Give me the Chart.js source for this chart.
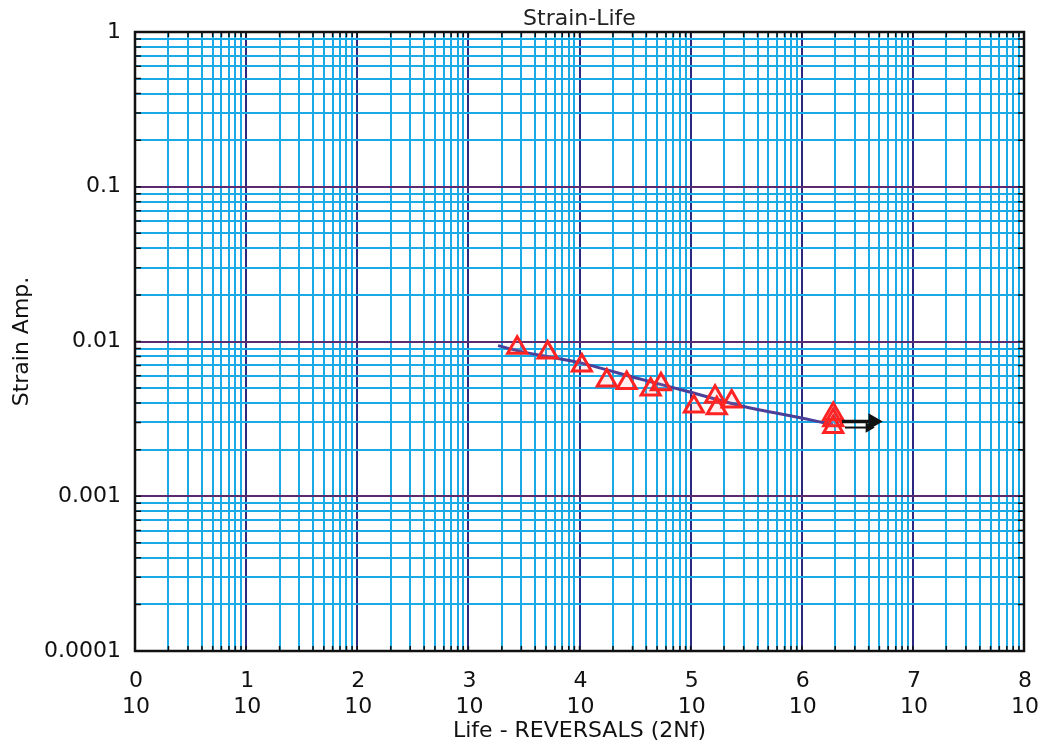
<!DOCTYPE html>
<html>
<head>
<meta charset="utf-8">
<title>Strain-Life</title>
<script src="https://cdn.jsdelivr.net/npm/chart.js@4.4.1/dist/chart.umd.min.js"></script>
<style>
    html, body { margin: 0; padding: 0; background: #fff; }
    #wrap { width: 1040px; height: 748px; }
</style>
</head>
<body>
<div id="wrap"><canvas id="strainChart" width="1040" height="748"></canvas></div>
<script>
// test points (reversals, strain amplitude)
var lifeReversals = [2750, 5170, 10500, 17600, 26600, 43700, 54100, 107000, 166000, 172000, 234000, 1920000, 1920000, 1920000];
var strainAmp = [0.0091, 0.0085, 0.0070, 0.0056, 0.0054, 0.0049, 0.0053, 0.0038, 0.0044, 0.0037, 0.0041, 0.0034, 0.0031, 0.0028];

// fitted strain-life curve
var fitLife = [1850, 3000, 10000, 30000, 100000, 300000, 1000000, 1910000];
var fitStrain = [0.0094, 0.0086, 0.0073, 0.0059, 0.0047, 0.0038, 0.0032, 0.0029];

// runout arrows
var runoutLife = [2300000, 4400000];
var runoutStrainUpper = [0.00304, 0.00304];
var runoutLifeLower = [2450000, 4000000];
var runoutStrainLower = [0.00278, 0.00278];

// axes
var xExponents = ['0', '1', '2', '3', '4', '5', '6', '7', '8'];
var yTickLabels = ['0.0001', '0.001', '0.01', '0.1', '1'];

var FONT = "'DejaVu Sans', sans-serif";

function toPoints(xs, ys) {
    var pts = [];
    for (var i = 0; i < xs.length; i++) {
        pts.push({ x: xs[i], y: ys[i] });
    }
    return pts;
}

function isDecade(v) {
    var e = Math.log10(v);
    return Math.abs(e - Math.round(e)) < 1e-9;
}

function logTicks(minExp, maxExp) {
    var ticks = [];
    for (var e = minExp; e <= maxExp; e++) {
        for (var m = 1; m <= 9; m++) {
            if (e === maxExp && m > 1) break;
            ticks.push({ value: m * Math.pow(10, e) });
        }
    }
    return ticks;
}

var framePlugin = {
    id: 'frame',
    beforeDatasetsDraw: function (chart) {
        var ctx = chart.ctx;
        var a = chart.chartArea;
        ctx.save();
        ctx.strokeStyle = '#111';
        ctx.lineWidth = 1.5;
        ctx.beginPath();
        chart.scales.x.ticks.forEach(function (t) {
            var px = chart.scales.x.getPixelForValue(t.value);
            ctx.moveTo(px, a.bottom); ctx.lineTo(px, a.bottom - 5);
            ctx.moveTo(px, a.top); ctx.lineTo(px, a.top + 5);
        });
        chart.scales.y.ticks.forEach(function (t) {
            var py = chart.scales.y.getPixelForValue(t.value);
            ctx.moveTo(a.left, py); ctx.lineTo(a.left + 6, py);
            ctx.moveTo(a.right, py); ctx.lineTo(a.right - 6, py);
        });
        ctx.stroke();
        ctx.lineWidth = 2.5;
        ctx.strokeRect(a.left, a.top, a.right - a.left, a.bottom - a.top);
        ctx.restore();
    },
    afterDraw: function (chart) {
        var ctx = chart.ctx;
        var a = chart.chartArea;
        ctx.save();
        ctx.fillStyle = '#222';
        ctx.font = '22px ' + FONT;
        ctx.textAlign = 'center';
        ctx.textBaseline = 'middle';
        ctx.fillText('Strain-Life', (a.left + a.right) / 2, 19);
        ctx.restore();
    }
};

var strainChart = new Chart(document.getElementById('strainChart'), {
    type: 'scatter',
    data: {
        datasets: [{
            label: 'Runout',
            type: 'line',
            data: toPoints(runoutLife, runoutStrainUpper),
            borderColor: '#111',
            backgroundColor: '#111',
            borderWidth: 3.5,
            pointStyle: 'triangle',
            rotation: 90,
            pointRadius: [0, 6],
            order: 1
        }, {
            label: 'Runout 2',
            type: 'line',
            data: toPoints(runoutLifeLower, runoutStrainLower),
            borderColor: '#111',
            backgroundColor: '#111',
            borderWidth: 2,
            pointStyle: 'triangle',
            rotation: 90,
            pointRadius: [0, 4],
            order: 1
        }, {
            label: 'Test data',
            data: toPoints(lifeReversals, strainAmp),
            pointStyle: 'triangle',
            pointRadius: 11,
            pointBorderWidth: 3,
            borderColor: '#ff2323',
            backgroundColor: 'rgba(255, 120, 120, 0.12)',
            order: 2
        }, {
            label: 'Fit',
            type: 'line',
            data: toPoints(fitLife, fitStrain),
            borderColor: '#4b3f98',
            borderWidth: 3,
            pointRadius: 0,
            tension: 0.2,
            order: 3
        }]
    },
    options: {
        responsive: false,
        animation: false,
        layout: { padding: { top: 32, right: 16, left: 0, bottom: 0 } },
        plugins: {
            legend: { display: false },
            title: { display: false },
            tooltip: { enabled: false }
        },
        scales: {
            x: {
                type: 'logarithmic',
                min: 1,
                max: 1e8,
                afterBuildTicks: function (scale) { scale.ticks = logTicks(0, 8); },
                afterFit: function (scale) {
                    scale.height = 97;
                    scale.paddingLeft = 0;
                    scale.paddingRight = 0;
                },
                border: { display: false },
                grid: {
                    drawTicks: false,
                    lineWidth: 2,
                    color: function (c) { return c.tick && isDecade(c.tick.value) ? '#2b2880' : '#1aabe6'; }
                },
                ticks: {
                    autoSkip: false,
                    maxRotation: 0,
                    padding: 17,
                    labelOffset: 1,
                    color: '#111',
                    font: { family: FONT, size: 22, lineHeight: 1.2 },
                    callback: function (value) {
                        if (!isDecade(value)) return '';
                        return [xExponents[Math.round(Math.log10(value))], '10'];
                    }
                },
                title: {
                    display: true,
                    text: 'Life - REVERSALS (2Nf)',
                    color: '#111',
                    font: { family: FONT, size: 22 },
                    padding: { top: 0, bottom: 4 }
                }
            },
            y: {
                type: 'logarithmic',
                min: 0.0001,
                max: 1,
                afterBuildTicks: function (scale) { scale.ticks = logTicks(-4, 0); },
                afterFit: function (scale) { scale.width = 135; },
                border: { display: false },
                grid: {
                    drawTicks: false,
                    lineWidth: 2,
                    color: function (c) { return c.tick && isDecade(c.tick.value) ? '#5b2b72' : '#1aabe6'; }
                },
                ticks: {
                    autoSkip: false,
                    padding: 14,
                    color: '#111',
                    font: { family: FONT, size: 22 },
                    callback: function (value) {
                        if (!isDecade(value)) return '';
                        return yTickLabels[Math.round(Math.log10(value)) + 4];
                    }
                },
                title: {
                    display: true,
                    text: 'Strain Amp.',
                    color: '#111',
                    font: { family: FONT, size: 22 },
                    padding: { top: 9, bottom: 0 }
                }
            }
        }
    },
    plugins: [framePlugin]
});
</script>
</body>
</html>
